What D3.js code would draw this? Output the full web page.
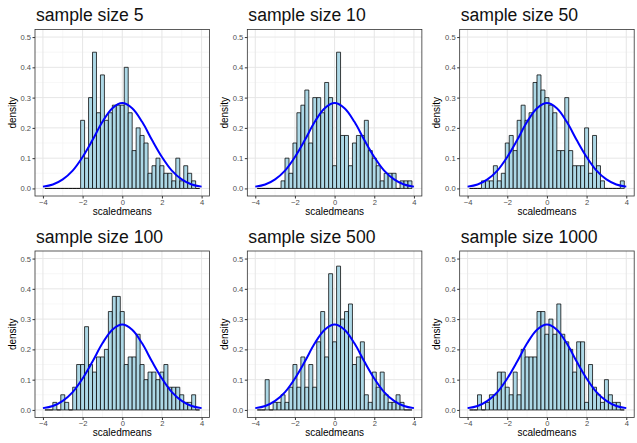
<!DOCTYPE html>
<html lang="en">
<head>
  <meta charset="UTF-8">
  <title>sample size histograms</title>
  <script src="https://cdn.jsdelivr.net/npm/d3@7"></script>
  <style>
    body { margin: 0; background: #fff; }
    svg { display: block; font-family: 'Liberation Sans', Arial, sans-serif; }
  </style>
</head>
<body>
<script>
  // --- data ---
  const sampleSizes = [5, 10, 50, 100, 500, 1000];
  const binWidth = 0.2;
  const binCenters = [-3.8, -3.6, -3.4, -3.2, -3.0, -2.8, -2.6, -2.4, -2.2, -2.0,
    -1.8, -1.6, -1.4, -1.2, -1.0, -0.8, -0.6, -0.4, -0.2, 0.0,
    0.2, 0.4, 0.6, 0.8, 1.0, 1.2, 1.4, 1.6, 1.8, 2.0,
    2.2, 2.4, 2.6, 2.8, 3.0, 3.2, 3.4, 3.6, 3.8];

  const density5 = [0, 0, 0, 0, 0, 0, 0, 0, 0, 0.225,
    0.1, 0.3, 0.45, 0.25, 0.375, 0.225, 0.25, 0.275, 0.275, 0.275,
    0.4, 0.25, 0.125, 0.2, 0.175, 0.15, 0.05, 0.075, 0.1, 0.075,
    0.05, 0.05, 0.025, 0.1, 0.025, 0.075, 0.05, 0.025, 0];
  const density10 = [0, 0, 0, 0, 0, 0, 0.025, 0.1, 0.05, 0.15,
    0.25, 0.275, 0.325, 0.15, 0.3, 0.3, 0.25, 0.35, 0.3, 0.075,
    0.45, 0.175, 0.175, 0.075, 0.15, 0.175, 0.175, 0.225, 0.125, 0.1,
    0.075, 0.025, 0.05, 0.05, 0.05, 0, 0.025, 0.025, 0.025];
  const density50 = [0, 0, 0, 0.025, 0.025, 0.025, 0.075, 0.025, 0.05, 0.15,
    0.175, 0.125, 0.225, 0.275, 0.225, 0.25, 0.35, 0.375, 0.325, 0.3,
    0.275, 0.25, 0.125, 0.125, 0.3, 0.125, 0.075, 0.075, 0.075, 0.2,
    0.05, 0.175, 0.075, 0.025, 0, 0, 0, 0, 0.025];
  const density100 = [0, 0, 0.025, 0, 0.05, 0.025, 0, 0.075, 0.15, 0.15,
    0.275, 0.15, 0.125, 0.175, 0.175, 0.2, 0.325, 0.375, 0.375, 0.325,
    0.15, 0.175, 0.175, 0.25, 0.15, 0.1, 0.125, 0.125, 0.1, 0.125,
    0.15, 0.075, 0.075, 0.075, 0.05, 0.025, 0.025, 0.05, 0];
  const density500 = [0, 0, 0.1, 0, 0.025, 0.025, 0.05, 0.025, 0.075, 0.15,
    0.075, 0.175, 0.075, 0.15, 0.075, 0.225, 0.325, 0.175, 0.45, 0.225,
    0.475, 0.3, 0.325, 0.35, 0.15, 0.175, 0.225, 0.05, 0.025, 0.125,
    0.075, 0.125, 0.05, 0.025, 0.025, 0.05, 0.025, 0, 0];
  const density1000 = [0, 0, 0.05, 0, 0.025, 0.05, 0.05, 0.125, 0.125, 0.075,
    0.05, 0.125, 0.05, 0.2, 0.175, 0.175, 0.175, 0.325, 0.325, 0.25,
    0.3, 0.25, 0.35, 0.25, 0.225, 0.2, 0.125, 0.225, 0.225, 0.025,
    0.15, 0.075, 0.05, 0.025, 0.1, 0.05, 0.025, 0.025, 0];
  const densities = [density5, density10, density50, density100, density500, density1000];

  // blue reference curve, read at half-unit steps
  const curveX = [-4, -3.5, -3, -2.5, -2, -1.5, -1, -0.5, 0, 0.5, 1, 1.5, 2, 2.5, 3, 3.5, 4];
  const curveY = [0.006, 0.013, 0.030, 0.059, 0.104, 0.160, 0.220, 0.265, 0.282,
    0.265, 0.220, 0.160, 0.104, 0.059, 0.030, 0.013, 0.006];

  const xTicks = [-4, -2, 0, 2, 4];
  const xMinor = [-3, -1, 1, 3];
  const yTicks = [0, 0.1, 0.2, 0.3, 0.4, 0.5];
  const yMinor = [0.05, 0.15, 0.25, 0.35, 0.45];

  // --- layout ---
  const width = 637;
  const height = 443;
  const cellW = width / 3;
  const cellH = height / 2;
  const margin = { top: 29.5, right: 2.8, bottom: 25.5, left: 35 };

  const x = d3.scaleLinear().domain([-4.4, 4.4]).range([margin.left, cellW - margin.right]);
  const y = d3.scaleLinear().domain([-0.025, 0.525]).range([cellH - margin.bottom, margin.top]);

  const svg = d3.select('body').append('svg')
    .attr('width', width).attr('height', height)
    .attr('viewBox', [0, 0, width, height]);
  svg.append('rect').attr('width', width).attr('height', height).attr('fill', '#fff');

  const fmtX = d => d < 0 ? '\u2212' + (-d) : String(d);
  const line = d3.line().x(d => x(d[0])).y(d => y(d[1])).curve(d3.curveCatmullRom.alpha(0.5));

  sampleSizes.forEach((n, p) => {
    const g = svg.append('g')
      .attr('transform', `translate(${(p % 3) * cellW},${Math.floor(p / 3) * cellH})`);
    const data = binCenters.map((c, i) => ({ c, d: densities[p][i] }));

    // grid
    const grid = g.append('g').attr('fill', 'none');
    grid.selectAll('.ym').data(yMinor).join('line')
      .attr('x1', margin.left).attr('x2', cellW - margin.right)
      .attr('y1', d => y(d)).attr('y2', d => y(d))
      .attr('stroke', '#f2f2f2').attr('stroke-width', 0.6);
    grid.selectAll('.xm').data(xMinor).join('line')
      .attr('y1', margin.top).attr('y2', cellH - margin.bottom)
      .attr('x1', d => x(d)).attr('x2', d => x(d))
      .attr('stroke', '#f2f2f2').attr('stroke-width', 0.6);
    grid.selectAll('.yM').data(yTicks).join('line')
      .attr('x1', margin.left).attr('x2', cellW - margin.right)
      .attr('y1', d => y(d)).attr('y2', d => y(d))
      .attr('stroke', '#e6e6e6').attr('stroke-width', 1);
    grid.selectAll('.xM').data(xTicks).join('line')
      .attr('y1', margin.top).attr('y2', cellH - margin.bottom)
      .attr('x1', d => x(d)).attr('x2', d => x(d))
      .attr('stroke', '#e6e6e6').attr('stroke-width', 1);

    // histogram bars (zero bins still show their outline on the baseline)
    g.append('g')
      .attr('fill', '#add8e6')
      .attr('stroke', '#000')
      .attr('stroke-width', 0.75)
      .selectAll('path')
      .data(data)
      .join('path')
      .attr('d', d => {
        const x0 = x(d.c - binWidth / 2), x1 = x(d.c + binWidth / 2);
        return `M${x0},${y(0)}V${y(d.d)}H${x1}V${y(0)}Z`;
      });

    // reference curve
    g.append('path')
      .datum(curveX.map((v, i) => [v, curveY[i]]))
      .attr('fill', 'none')
      .attr('stroke', '#0000ff')
      .attr('stroke-width', 2)
      .attr('d', line);

    // panel border
    g.append('rect')
      .attr('x', margin.left).attr('y', margin.top)
      .attr('width', cellW - margin.right - margin.left)
      .attr('height', cellH - margin.bottom - margin.top)
      .attr('fill', 'none').attr('stroke', '#333').attr('stroke-width', 0.8);

    // axes
    g.append('g')
      .attr('transform', `translate(${margin.left},0)`)
      .call(d3.axisLeft(y).tickValues(yTicks).tickFormat(d3.format('.1f')).tickSize(2.5).tickPadding(1.5))
      .call(a => a.select('.domain').remove())
      .call(a => a.selectAll('line').attr('stroke', '#333'))
      .call(a => a.selectAll('text').attr('fill', '#4d4d4d').style('font-size', '7.6px')
        .style('font-family', "'Liberation Sans', Arial, sans-serif"));

    g.append('g')
      .attr('transform', `translate(0,${cellH - margin.bottom})`)
      .call(d3.axisBottom(x).tickValues(xTicks).tickFormat(fmtX).tickSize(2.5).tickPadding(1))
      .call(a => a.select('.domain').remove())
      .call(a => a.selectAll('line').attr('stroke', '#333'))
      .call(a => a.selectAll('text').attr('fill', '#4d4d4d').style('font-size', '7.6px')
        .style('font-family', "'Liberation Sans', Arial, sans-serif"));

    // labels
    g.append('text')
      .attr('x', (margin.left + cellW - margin.right) / 2)
      .attr('y', 214.5)
      .attr('text-anchor', 'middle')
      .style('font-size', '10px')
      .text('scaledmeans');

    g.append('text')
      .attr('transform', `translate(15.5,${(margin.top + cellH - margin.bottom) / 2}) rotate(-90)`)
      .attr('text-anchor', 'middle')
      .style('font-size', '10px')
      .text('density');

    g.append('text')
      .attr('x', margin.left + 1)
      .attr('y', 21)
      .style('font-size', '17.6px')
      .attr('fill', '#111')
      .text(`sample size ${n}`);
  });
</script>
</body>
</html>
